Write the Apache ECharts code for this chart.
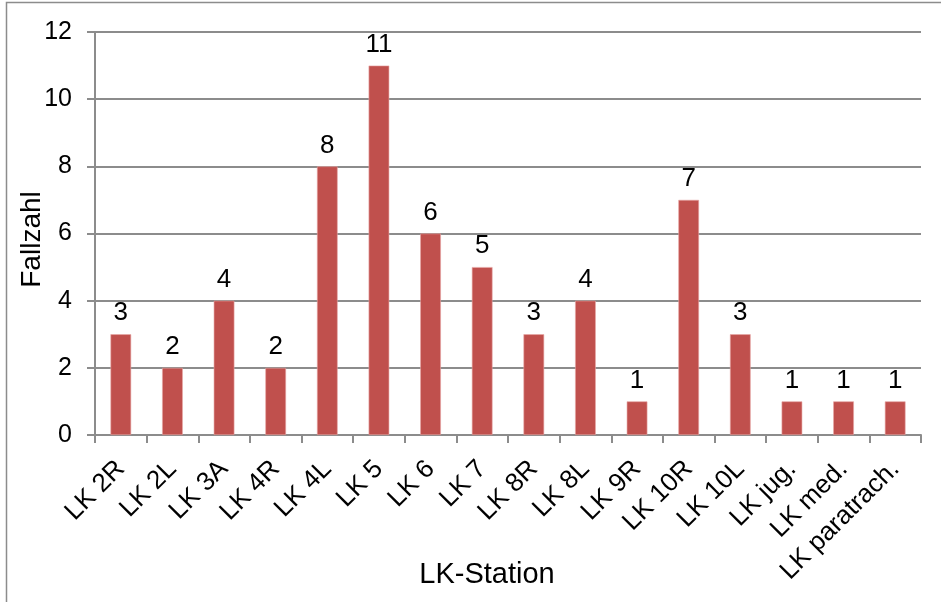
<!DOCTYPE html>
<html>
<head>
<meta charset="utf-8">
<script src="https://cdn.jsdelivr.net/npm/echarts@6/dist/echarts.min.js"></script>
<style>
  html, body { margin: 0; padding: 0; background: #fff; }
  #chart { width: 941px; height: 602px; }
</style>
</head>
<body>
<div id="chart"></div>
<script>
// Lymph node stations and case counts
const stations = ['LK 2R', 'LK 2L', 'LK 3A', 'LK 4R', 'LK 4L', 'LK 5', 'LK 6', 'LK 7',
  'LK 8R', 'LK 8L', 'LK 9R', 'LK 10R', 'LK 10L', 'LK jug.', 'LK med.', 'LK paratrach.'];
const cases = [3, 2, 4, 2, 8, 11, 6, 5, 3, 4, 1, 7, 3, 1, 1, 1];
const yTicks = [0, 2, 4, 6, 8, 10, 12];

const FONT = 'Liberation Sans, Arial, sans-serif';
const chart = echarts.init(document.getElementById('chart'), null, { renderer: 'canvas' });

chart.setOption({
  animation: false,
  backgroundColor: '#ffffff',
  graphic: [{
    type: 'rect',
    shape: { x: 6.5, y: 2.5, width: 960, height: 640 },
    style: { fill: 'none', stroke: '#8c8c8c', lineWidth: 1.5 },
    silent: true
  }],
  grid: { left: 95, right: 20, top: 32, bottom: 167, containLabel: false, outerBoundsMode: 'none' },
  xAxis: {
    type: 'category',
    data: stations,
    name: 'LK-Station',
    nameLocation: 'middle',
    nameGap: 125,
    nameMoveOverlap: false,
    nameTextStyle: { fontFamily: FONT, fontSize: 29, color: '#000', padding: [0, 42, 0, 0] },
    axisLine: { lineStyle: { color: '#8c8c8c', width: 2 } },
    axisTick: { show: true, alignWithLabel: false, length: 8, lineStyle: { color: '#8c8c8c', width: 2 } },
    axisLabel: { rotate: 45, interval: 0, margin: 30, fontFamily: FONT, fontSize: 26, color: '#000' },
    splitLine: { show: false }
  },
  yAxis: {
    type: 'value',
    min: yTicks[0],
    max: yTicks[yTicks.length - 1],
    interval: 2,
    name: 'Fallzahl',
    nameLocation: 'middle',
    nameGap: 49,
    nameRotate: 90,
    nameMoveOverlap: false,
    nameTextStyle: { fontFamily: FONT, fontSize: 28, color: '#000', padding: [0, 12, 0, 0] },
    axisLine: { show: true, lineStyle: { color: '#8c8c8c', width: 2 } },
    axisTick: { show: true, inside: false, length: 8, lineStyle: { color: '#8c8c8c', width: 2 } },
    axisLabel: { margin: 23, fontFamily: FONT, fontSize: 25, color: '#000' },
    splitLine: { show: true, lineStyle: { color: '#8c8c8c', width: 2 } }
  },
  series: [{
    type: 'bar',
    data: cases,
    barWidth: '40%',
    itemStyle: { color: '#C0504D', borderColor: '#e8a6a4', borderWidth: 0.6 },
    label: {
      show: true,
      position: 'top',
      distance: 8,
      fontFamily: FONT,
      fontSize: 26,
      color: '#000'
    }
  }]
});
</script>
</body>
</html>
